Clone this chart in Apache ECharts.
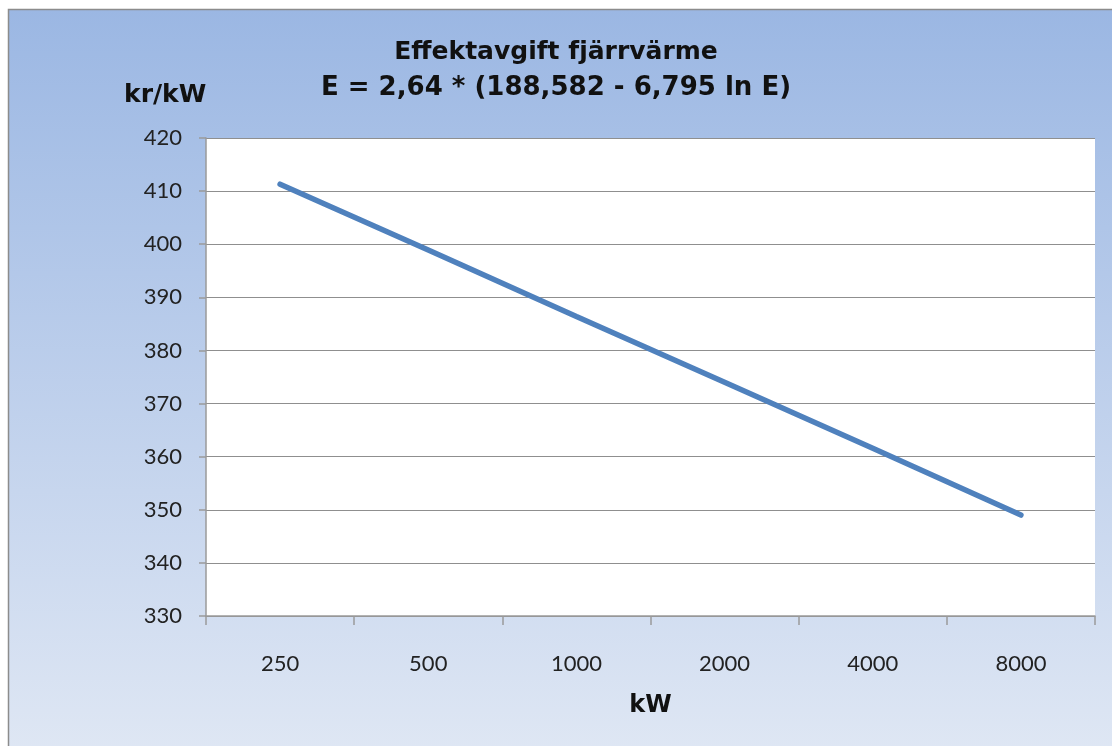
<!DOCTYPE html>
<html><head><meta charset="utf-8">
<script src="https://cdn.jsdelivr.net/npm/echarts@6/dist/echarts.min.js"></script>
<style>html,body{margin:0;padding:0;background:#fff}#c{width:1112px;height:746px}</style>
</head><body><div id="c"></div>
<script>
const categories = ['250', '500', '1000', '2000', '4000', '8000'];
const values = [411.3, 398.9, 386.4, 374.0, 361.6, 349.0];
const titleLines = ['Effektavgift fjärrvärme', 'E = 2,64 * (188,582 - 6,795 ln E)'];

const chart = echarts.init(document.getElementById('c'), null, {renderer: 'canvas'});
const font = '"DejaVu Sans", Verdana, sans-serif';
const lab = 'Lato, "Open Sans", sans-serif';
chart.setOption({
  animation: false,
  graphic: [{
    type: 'rect', z: -10, silent: true,
    shape: {x: 8.5, y: 9.5, width: 1110, height: 745},
    style: {
      fill: new echarts.graphic.LinearGradient(0, 0, 0, 1, [
        {offset: 0, color: '#9bb7e3'},
        {offset: 1, color: '#dfe7f4'}
      ]),
      stroke: '#8c8c8c', lineWidth: 1.5
    }
  }],
  title: [
    {text: titleLines[0], left: 'center', top: 35,
     textStyle: {fontFamily: font, fontWeight: 'bold', fontSize: 25, color: '#111'}},
    {text: titleLines[1], left: 'center', top: 70,
     textStyle: {fontFamily: font, fontWeight: 'bold', fontSize: 26, color: '#111'}},
    {text: 'kr/kW', left: 119, top: 78,
     textStyle: {fontFamily: font, fontWeight: 'bold', fontSize: 25, color: '#111'}}
  ],
  grid: {left: 206, top: 138, right: 17, bottom: 130, show: true,
         backgroundColor: '#fff', borderWidth: 0},
  xAxis: {
    type: 'category', data: categories, boundaryGap: true,
    name: 'kW', nameLocation: 'middle', nameGap: 78,
    nameTextStyle: {fontFamily: font, fontWeight: 'bold', fontSize: 24, color: '#111'},
    axisLine: {lineStyle: {color: '#9a9a9a', width: 1.5}},
    axisTick: {show: true, length: 9, lineStyle: {color: '#9a9a9a', width: 1.5}},
    axisLabel: {fontFamily: lab, fontSize: 22, color: '#222', margin: 37}
  },
  yAxis: {
    type: 'value', min: 330, max: 420, interval: 10,
    axisLine: {show: true, lineStyle: {color: '#9a9a9a', width: 1.5}},
    axisTick: {show: true, length: 7, lineStyle: {color: '#9a9a9a', width: 1.5}},
    splitLine: {lineStyle: {color: '#8f8f8f', width: 1.2}},
    axisLabel: {fontFamily: lab, fontSize: 22, color: '#222', margin: 24}
  },
  series: [{
    type: 'line', data: values, showSymbol: false, symbol: 'none',
    lineStyle: {color: '#4f81bd', width: 5.5, cap: 'round'}
  }]
});
</script></body></html>
